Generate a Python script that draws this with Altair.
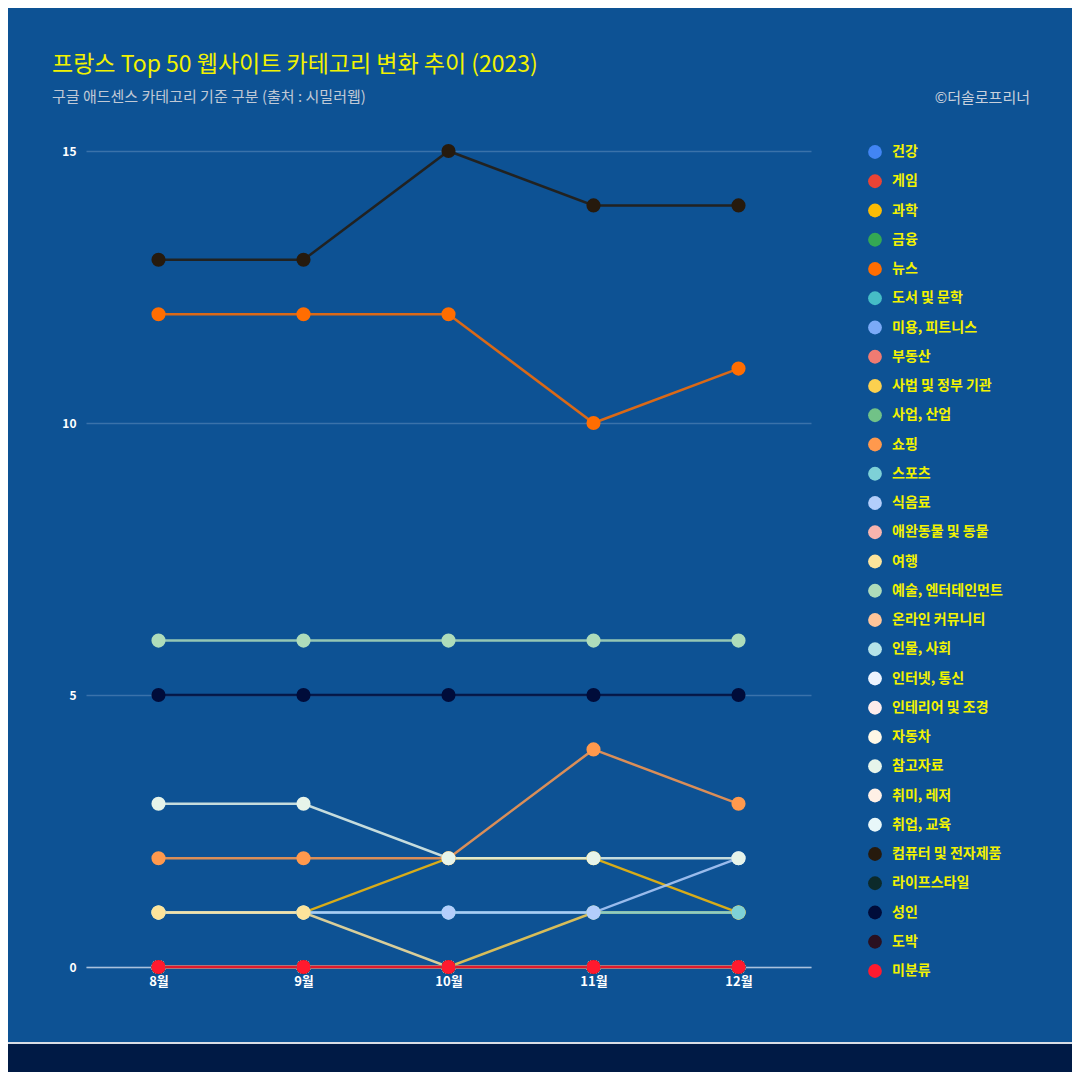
import altair as alt
import pandas as pd

months = ["8월", "9월", "10월", "11월", "12월"]

categories = [
    "건강", "게임", "과학", "금융", "뉴스", "도서 및 문학", "미용, 피트니스", "부동산",
    "사법 및 정부 기관", "사업, 산업", "쇼핑", "스포츠", "식음료", "애완동물 및 동물",
    "여행", "예술, 엔터테인먼트", "온라인 커뮤니티", "인물, 사회", "인터넷, 통신",
    "인테리어 및 조경", "자동차", "참고자료", "취미, 레저", "취업, 교육",
    "컴퓨터 및 전자제품", "라이프스타일", "성인", "도박", "미분류",
]

colors = [
    "#4285f4", "#ea4335", "#fbbc04", "#34a853", "#ff6d01", "#46bdc6", "#7baaf7", "#f07b72",
    "#fcd04f", "#71c287", "#ff994d", "#7ed1d7", "#b3cefb", "#f7b4ae",
    "#fde49b", "#aedcba", "#ffc599", "#b5e3e8", "#ecf3fe",
    "#fdeceb", "#fff8e6", "#e6f4ea", "#fff0e6", "#e8f7f9",
    "#261a0d", "#0c2a2a", "#000c3a", "#2a1020", "#ff1a2e",
]

values = {
    "건강": [0, 0, 0, 0, 0],
    "게임": [0, 0, 0, 0, 0],
    "과학": [1, 1, 2, 2, 1],
    "금융": [0, 0, 0, 0, 0],
    "뉴스": [12, 12, 12, 10, 11],
    "도서 및 문학": [0, 0, 0, 0, 0],
    "미용, 피트니스": [0, 0, 0, 0, 0],
    "부동산": [0, 0, 0, 0, 0],
    "사법 및 정부 기관": [0, 0, 0, 1, 1],
    "사업, 산업": [0, 0, 0, 0, 0],
    "쇼핑": [2, 2, 2, 4, 3],
    "스포츠": [1, 1, 1, 1, 1],
    "식음료": [1, 1, 1, 1, 2],
    "애완동물 및 동물": [0, 0, 0, 0, 0],
    "여행": [1, 1, 0, 0, 0],
    "예술, 엔터테인먼트": [6, 6, 6, 6, 6],
    "온라인 커뮤니티": [0, 0, 0, 0, 0],
    "인물, 사회": [0, 0, 0, 0, 0],
    "인터넷, 통신": [0, 0, 0, 0, 0],
    "인테리어 및 조경": [0, 0, 0, 0, 0],
    "자동차": [0, 0, 0, 0, 0],
    "참고자료": [3, 3, 2, 2, 2],
    "취미, 레저": [0, 0, 0, 0, 0],
    "취업, 교육": [0, 0, 0, 0, 0],
    "컴퓨터 및 전자제품": [13, 13, 15, 14, 14],
    "라이프스타일": [0, 0, 0, 0, 0],
    "성인": [5, 5, 5, 5, 5],
    "도박": [0, 0, 0, 0, 0],
    "미분류": [0, 0, 0, 0, 0],
}

y_ticks = [0, 5, 10, 15]

title_text = "프랑스 Top 50 웹사이트 카테고리 변화 추이 (2023)"
subtitle_text = "구글 애드센스 카테고리 기준 구분 (출처 : 시밀러웹)"
credit_text = "©더솔로프리너"

rows = []
for i, c in enumerate(categories):
    for m, v in zip(months, values[c]):
        rows.append({"카테고리": c, "월": m, "값": v, "order": i})
df = pd.DataFrame(rows)

FONT = "Noto Sans CJK KR"
BG = "#0d5294"

x_enc = alt.X("월:O", sort=months, scale=alt.Scale(type="point", padding=0.5),
              axis=alt.Axis(title=None, labelAngle=0, domain=True, domainColor="#a9c1dc",
                            domainWidth=1.5, ticks=False, grid=False, labelColor="white",
                            labelFontWeight="bold", labelFontSize=13, labelPadding=8,
                            labelFont=FONT))
y_enc = alt.Y("값:Q", scale=alt.Scale(domain=[0, 15], nice=False),
              axis=alt.Axis(title=None, values=y_ticks, grid=True, gridColor="#3a72aa",
                            gridWidth=1.5, domain=False, ticks=False, labelColor="white",
                            labelFontWeight="bold", labelFontSize=12, labelPadding=10,
                            labelFont=FONT))
color_enc = alt.Color("카테고리:N",
                      scale=alt.Scale(domain=categories, range=colors),
                      legend=alt.Legend(title=None, orient="none", legendX=782, legendY=-6,
                                        symbolType="circle", symbolSize=190,
                                        symbolStrokeWidth=0, symbolOpacity=1,
                                        labelColor="#f2f200", labelFontSize=14,
                                        labelFontWeight="bold", labelFont=FONT,
                                        rowPadding=15.25, labelOffset=10,
                                        symbolLimit=0, labelLimit=300))

base = alt.Chart(df)

lines = base.mark_line(strokeWidth=2.5, opacity=0.85).encode(
    x=x_enc, y=y_enc, color=color_enc, detail="카테고리:N",
    order=alt.Order("order:Q"),
)
points = base.mark_circle(size=200, opacity=1).encode(
    x=x_enc, y=y_enc, color=color_enc, order=alt.Order("order:Q"),
)

one = pd.DataFrame({"k": [0]})
band = alt.Chart(one).mark_rect(color="#001a45").encode(
    x=alt.value(-90), x2=alt.value(1000), y=alt.value(893), y2=alt.value(935),
)
band_line = alt.Chart(one).mark_rule(color="#d8dde5", strokeWidth=2).encode(
    x=alt.value(-90), x2=alt.value(1000), y=alt.value(892),
)
credit = alt.Chart(one).mark_text(
    text=credit_text, align="right", baseline="middle", color="#c8d0dc",
    fontSize=15, font=FONT,
).encode(x=alt.value(944), y=alt.value(-53))

chart = alt.layer(band, band_line, lines, points, credit).properties(
    width=725,
    height=816,
    padding={"left": 78, "top": 143, "right": 261, "bottom": 105},
    autosize=alt.AutoSizeParams(type="none"),
    background=BG,
    title=alt.TitleParams(
        text=title_text, subtitle=subtitle_text, anchor="start", frame="group",
        dx=-34, offset=-14, color="#f2f200", fontSize=23, font=FONT, fontWeight="normal",
        subtitleColor="#c0c9d6", subtitleFontSize=15, subtitleFont=FONT,
        subtitlePadding=13,
    ),
).configure_view(stroke=None)

chart.save("out.html", embed_options={"renderer": "svg", "actions": False})
